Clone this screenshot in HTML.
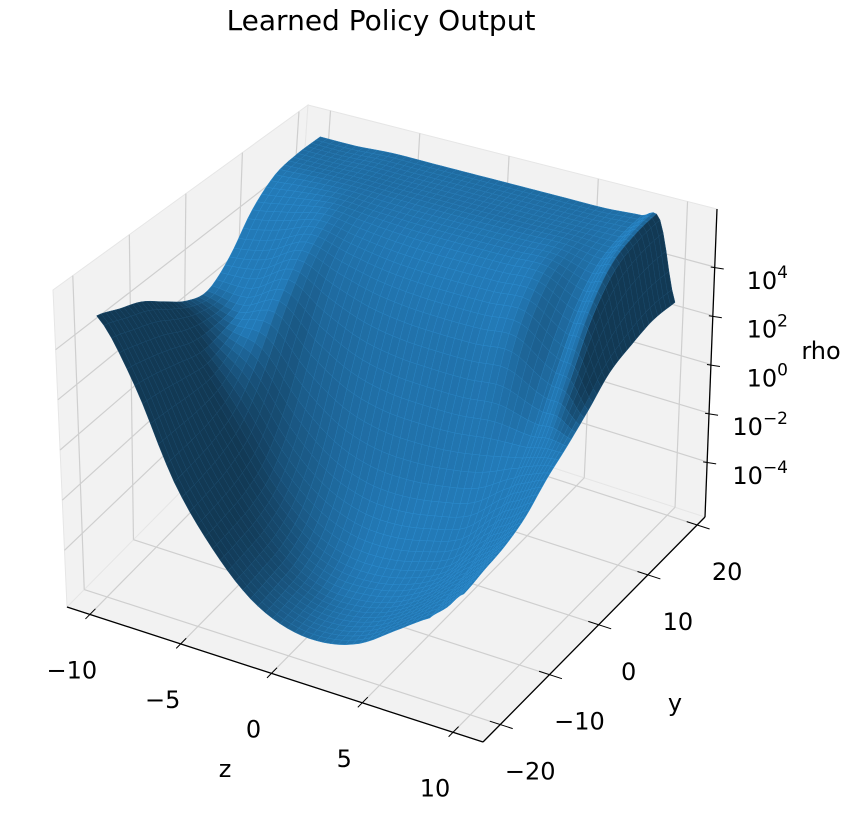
<!DOCTYPE html>
<html><head><meta charset="utf-8"><style>
html,body{margin:0;padding:0;background:#fff;}
svg text{font-family:"DejaVu Sans","Liberation Sans",sans-serif;fill:#000;}
</style></head><body>
<svg id="chart" width="854" height="820" viewBox="0 0 854 820" xmlns="http://www.w3.org/2000/svg">
<text x="381" y="30" font-size="28" text-anchor="middle">Learned Policy Output</text>
<g id="panes"></g>
<g id="grid"></g>
<g id="surface"></g>
<g id="axes"></g>
</svg>
<script>
// ---- data ----
const zVals = [-10,-8,-6,-4,-2,0,2,4,6,8,9,10];
const yVals = [-20,-16,-12,-8,-4,0,4,8,12,16,20];
// log10(rho), one array per z value, entries follow yVals
const logRhoByZ = [
  [5,4.6,4.2,3.5,2.8,2.5,3.2,4.5,5.3,5.5,5.5],
  [2.6,2.4,2.1,1.8,1.9,2.3,3.5,4.8,5.4,5.5,5.5],
  [-0.8,-0.7,-0.5,0,1.2,2.9,4.3,5.12,5.44,5.55,5.6],
  [-3,-2.9,-2.7,-2.1,-0.6,1.7,3.78,4.92,5.37,5.52,5.6],
  [-4.5,-4.4,-4.2,-3.5,-1.9,0.8,3.34,4.75,5.32,5.51,5.6],
  [-5.2,-5.1,-4.9,-4.2,-2.5,0.4,3.13,4.67,5.29,5.5,5.6],
  [-5.3,-5.2,-4.95,-4.3,-2.6,0.3,3.06,4.65,5.28,5.49,5.6],
  [-4.9,-4.8,-4.6,-4,-2.4,0.3,3.06,4.65,5.28,5.49,5.6],
  [-4,-3.95,-3.8,-3.4,-2.0,0.45,3.13,4.67,5.29,5.5,5.6],
  [-3.1,-2.9,-2.6,-2,-1,0.3,2.2,3.9,5,5.5,5.7],
  [-2.5,-2.3,-2,-1.5,-0.6,0.4,2,3.8,5,5.5,5.7],
  [-1.8,-1.6,-1.4,-1,-0.3,0.3,1.0,1.8,2.2,2.5,2.5]
];
const zTicks = [-10,-5,0,5,10];
const yTicks = [-20,-10,0,10,20];
const rhoTickExps = [-4,-2,0,2,4];

// ---- axis limits & projection ----
const zLo=-11.26, zHi=11.65, yLo=-23.5, yHi=21.6, lLo=-6.26, lHi=6.38;
const Bt={A:[67,607],B:[483,742],C:[705,517],D:[289,382]};
const Tp={A:[53,290],B:[462,394],C:[717,209],D:[308,105]};
function bil(P,u,v){
  const x=(1-u)*(1-v)*P.A[0]+u*(1-v)*P.B[0]+u*v*P.C[0]+(1-u)*v*P.D[0];
  const y=(1-u)*(1-v)*P.A[1]+u*(1-v)*P.B[1]+u*v*P.C[1]+(1-u)*v*P.D[1];
  return [x,y];
}
function proj(u,v,w){const b=bil(Bt,u,v),t=bil(Tp,u,v);return [b[0]+(t[0]-b[0])*w,b[1]+(t[1]-b[1])*w];}
const U=z=>(z-zLo)/(zHi-zLo), V=y=>(y-yLo)/(yHi-yLo), W=l=>(l-lLo)/(lHi-lLo);
const NS='http://www.w3.org/2000/svg';
function mk(tag,attrs,parent){const e=document.createElementNS(NS,tag);for(const k in attrs)e.setAttribute(k,attrs[k]);parent.appendChild(e);return e;}
const pts=a=>a.map(p=>p[0].toFixed(1)+','+p[1].toFixed(1)).join(' ');

// ---- panes ----
const panes=document.getElementById('panes');
const floorP=mk('polygon',{points:pts([Bt.A,Bt.B,Bt.C,Bt.D]),fill:'#f2f2f2',stroke:'#e6e6e6'},panes);

const leftP=mk('polygon',{points:pts([Bt.A,Bt.D,Tp.D,Tp.A]),fill:'#f2f2f2',stroke:'#e6e6e6'},panes);

const backP=mk('polygon',{points:pts([Bt.D,Bt.C,Tp.C,Tp.D]),fill:'#f2f2f2',stroke:'#e6e6e6'},panes);


// ---- grid ----
const grid=document.getElementById('grid');
function gl(p1,p2,name){const l=mk('line',{x1:p1[0],y1:p1[1],x2:p2[0],y2:p2[1],stroke:'#cfcfcf','stroke-width':1.2},grid);
}
zTicks.forEach(z=>{const u=U(z);gl(proj(u,0,0),proj(u,1,0),'z-gridline');gl(proj(u,1,0),proj(u,1,1),'z-gridline');});
yTicks.forEach(y=>{const v=V(y);gl(proj(0,v,0),proj(1,v,0),'y-gridline');gl(proj(0,v,0),proj(0,v,1),'y-gridline');});
rhoTickExps.forEach(e=>{const w=W(e);gl(proj(0,0,w),proj(0,1,w),'rho-gridline');gl(proj(0,1,w),proj(1,1,w),'rho-gridline');});

// ---- surface ----
const surf=document.getElementById('surface');
const eye=[0.433,-0.75,0.5];
const light=[-0.45,-0.55,0.70];
const polys=[];
const SUB=5;
const NZ=zVals.length, NY=yVals.length;
function cr(p0,p1,p2,p3,t){return 0.5*((2*p1)+(-p0+p2)*t+(2*p0-5*p1+4*p2-p3)*t*t+(-p0+3*p1-3*p2+p3)*t*t*t);}
const cl=(i,n)=>Math.max(0,Math.min(n-1,i));
function colAt(i,j,b){
  const c=logRhoByZ[cl(i,NZ)];
  return cr(c[cl(j-1,NY)],c[cl(j,NY)],c[cl(j+1,NY)],c[cl(j+2,NY)],b);
}
function val(i,j,a,b){
  return cr(colAt(i-1,j,b),colAt(i,j,b),colAt(i+1,j,b),colAt(i+2,j,b),a);
}
for(let i=0;i<NZ-1;i++){
  for(let j=0;j<NY-1;j++){
    for(let si=0;si<SUB;si++)for(let sj=0;sj<SUB;sj++){
      const corners=[[si,sj],[si+1,sj],[si+1,sj+1],[si,sj+1]].map(([a,b])=>{
        const fa=a/SUB,fb=b/SUB;
        const z=zVals[i]+(zVals[i+1]-zVals[i])*fa;
        const y=yVals[j]+(yVals[j+1]-yVals[j])*fb;
        const l=val(i,j,fa,fb);
        return [U(z),V(y),W(l)];
      });
      const bx=corners.map(c=>[c[0],c[1],c[2]*0.75]);
      const d1=[bx[2][0]-bx[0][0],bx[2][1]-bx[0][1],bx[2][2]-bx[0][2]];
      const d2=[bx[3][0]-bx[1][0],bx[3][1]-bx[1][1],bx[3][2]-bx[1][2]];
      let n=[d1[1]*d2[2]-d1[2]*d2[1],d1[2]*d2[0]-d1[0]*d2[2],d1[0]*d2[1]-d1[1]*d2[0]];
      if(n[2]<0)n=n.map(x=>-x);
      const nl=Math.hypot(n[0],n[1],n[2])||1;n=n.map(x=>x/nl);
      const t=n[0]*light[0]+n[1]*light[1]+n[2]*light[2];
      const f=0.45+0.55*Math.max(0,Math.min(1,(t-0.1)/0.8));
      const col=`rgb(${Math.round(31*f+4)},${Math.round(119*f+3)},${Math.round(180*f+3)})`;
      const sf=f+0.1;
      const scol=`rgb(${Math.round(31*sf+8)},${Math.round(119*sf+8)},${Math.round(180*sf+8)})`;
      const c=bx.reduce((s,p)=>[s[0]+p[0]/4,s[1]+p[1]/4,s[2]+p[2]/4],[0,0,0]);
      const depth=(c[0]-0.5)*eye[0]+(c[1]-0.5)*eye[1]+(c[2]-0.375)*eye[2];
      polys.push({p:corners.map(q=>proj(q[0],q[1],q[2])),col,scol,depth});
    }
  }
}
polys.sort((a,b)=>a.depth-b.depth);
polys.forEach(q=>{
  const e=mk('polygon',{points:pts(q.p),fill:q.col,stroke:q.scol,'stroke-width':0.5,'stroke-linejoin':'round'},surf);
  
  
});

// ---- axes ----
const axes=document.getElementById('axes');
function al(p1,p2,name,w){const l=mk('line',{x1:p1[0],y1:p1[1],x2:p2[0],y2:p2[1],stroke:'#000','stroke-width':w||1.3},axes);
}
al(Bt.A,Bt.B,'z-axis-line');al(Bt.B,Bt.C,'y-axis-line');al(Bt.C,Tp.C,'rho-axis-line');
function tx(x,y,s,anchor,name){const t=mk('text',{x:x,y:y,'font-size':24,'text-anchor':anchor||'middle'},axes);t.textContent=s;
return t;}
zTicks.forEach(z=>{const u=U(z);al(proj(u,-0.02,0),proj(u,0.025,0),'z-tick',1);
  const p=proj(u,0,0);tx(p[0]-18,p[1]+64,String(z).replace('-','\u2212'),'middle','z-tick-label');});
yTicks.forEach(y=>{const v=V(y);al(proj(0.975,v,0),proj(1.03,v,0),'y-tick',1);
  const p=proj(1,v,0);tx(p[0]+30,p[1]+55,String(y).replace('-','\u2212'),'middle','y-tick-label');});
rhoTickExps.forEach(e=>{const w=W(e);const p=proj(1,1,w);al([p[0]-4,p[1]],[p[0]+9,p[1]+2],'rho-tick',1);
  const t=mk('text',{x:788,y:p[1]+22,'font-size':24,'text-anchor':'end'},axes);
  
  const a=mk('tspan',{},t);a.textContent='10';
  const b=mk('tspan',{dy:-11,'font-size':17},t);b.textContent=String(e).replace('-','\u2212');});
tx(225,777,'z','middle','z-axis-title');
tx(675,711,'y','middle','y-axis-title');
tx(821,359,'rho','middle','rho-axis-title');
</script>
</body></html>
